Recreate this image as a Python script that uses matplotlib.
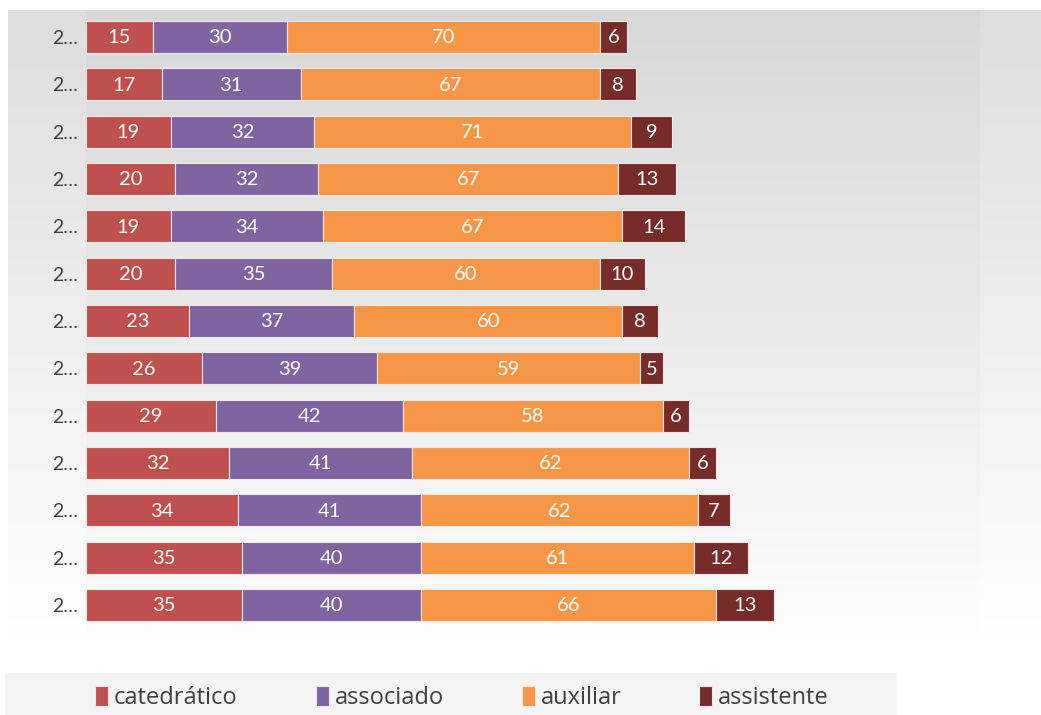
import matplotlib.pyplot as plt
import matplotlib.patches as mpatches
import numpy as np

# dados (de cima para baixo)
anos = ['2…'] * 13
catedratico = [15, 17, 19, 20, 19, 20, 23, 26, 29, 32, 34, 35, 35]
associado = [30, 31, 32, 32, 34, 35, 37, 39, 42, 41, 41, 40, 40]
auxiliar = [70, 67, 71, 67, 67, 60, 60, 59, 58, 62, 62, 61, 66]
assistente = [6, 8, 9, 13, 14, 10, 8, 5, 6, 6, 7, 12, 13]

series = [('catedrático', catedratico, '#c0504d'),
          ('associado', associado, '#8064a2'),
          ('auxiliar', auxiliar, '#f79646'),
          ('assistente', assistente, '#772c2a')]

plt.rcParams['font.family'] = ['Lato', 'DejaVu Sans']

W, H = 1041, 715
fig = plt.figure(figsize=(W / 100, H / 100), dpi=100)

# fundo com gradiente (area do grafico)
grad = np.linspace(0, 1, 256).reshape(-1, 1)
bg = fig.add_axes([8 / W, 1 - 640 / H, (W - 8) / W, 630 / H], zorder=0)
bg.imshow(grad, aspect='auto', cmap=plt.cm.colors.LinearSegmentedColormap.from_list(
    'g', ['#dedede', '#ffffff']), extent=[0, 1, 0, 1], origin='upper')
bg.axis('off')

ax = fig.add_axes([86 / W, 1 - 632 / H, (980 - 86) / W, 622 / H], zorder=1)
ax.imshow(grad, aspect='auto', cmap=plt.cm.colors.LinearSegmentedColormap.from_list(
    'g2', ['#d8d8d8', '#fdfdfd']), extent=[0, 200, 12.57, -0.57], origin='upper', zorder=0)

y = np.arange(len(anos))
left = np.zeros(len(anos))
for nome, vals, cor in series:
    vals = np.array(vals)
    bars = ax.barh(y, vals, left=left, height=0.68, color=cor, edgecolor='#f2e6e6',
                   linewidth=0.8, label=nome, zorder=2)
    for b, v in zip(bars, vals):
        ax.text(b.get_x() + b.get_width() / 2, b.get_y() + b.get_height() / 2 + 0.02, str(v),
                ha='center', va='center', color='white', fontsize=14.5, zorder=3)
    left += vals

ax.set_xlim(0, 200)
ax.set_ylim(12.57, -0.57)
ax.set_yticks(y)
ax.set_yticklabels(anos, fontsize=14, color='#404040')
ax.set_xticks([])
ax.tick_params(axis='y', length=0, pad=6)
for s in ax.spines.values():
    s.set_visible(False)

# caixa da legenda
fig.patches.append(mpatches.Rectangle((5 / W, 0), 892 / W, 42 / H, transform=fig.transFigure,
                                      facecolor='#f4f4f4', edgecolor='none', zorder=0))
leg = fig.legend(loc='center', bbox_to_anchor=(462 / W, 17 / H), ncol=4, fontsize=17,
                 frameon=False, handlelength=0.55, handleheight=0.9, handletextpad=0.25,
                 columnspacing=3.3, borderaxespad=0)
for t in leg.get_texts():
    t.set_color('#404040')
    t.set_family(['Open Sans', 'DejaVu Sans'])

fig.savefig('out.png', dpi=100)
